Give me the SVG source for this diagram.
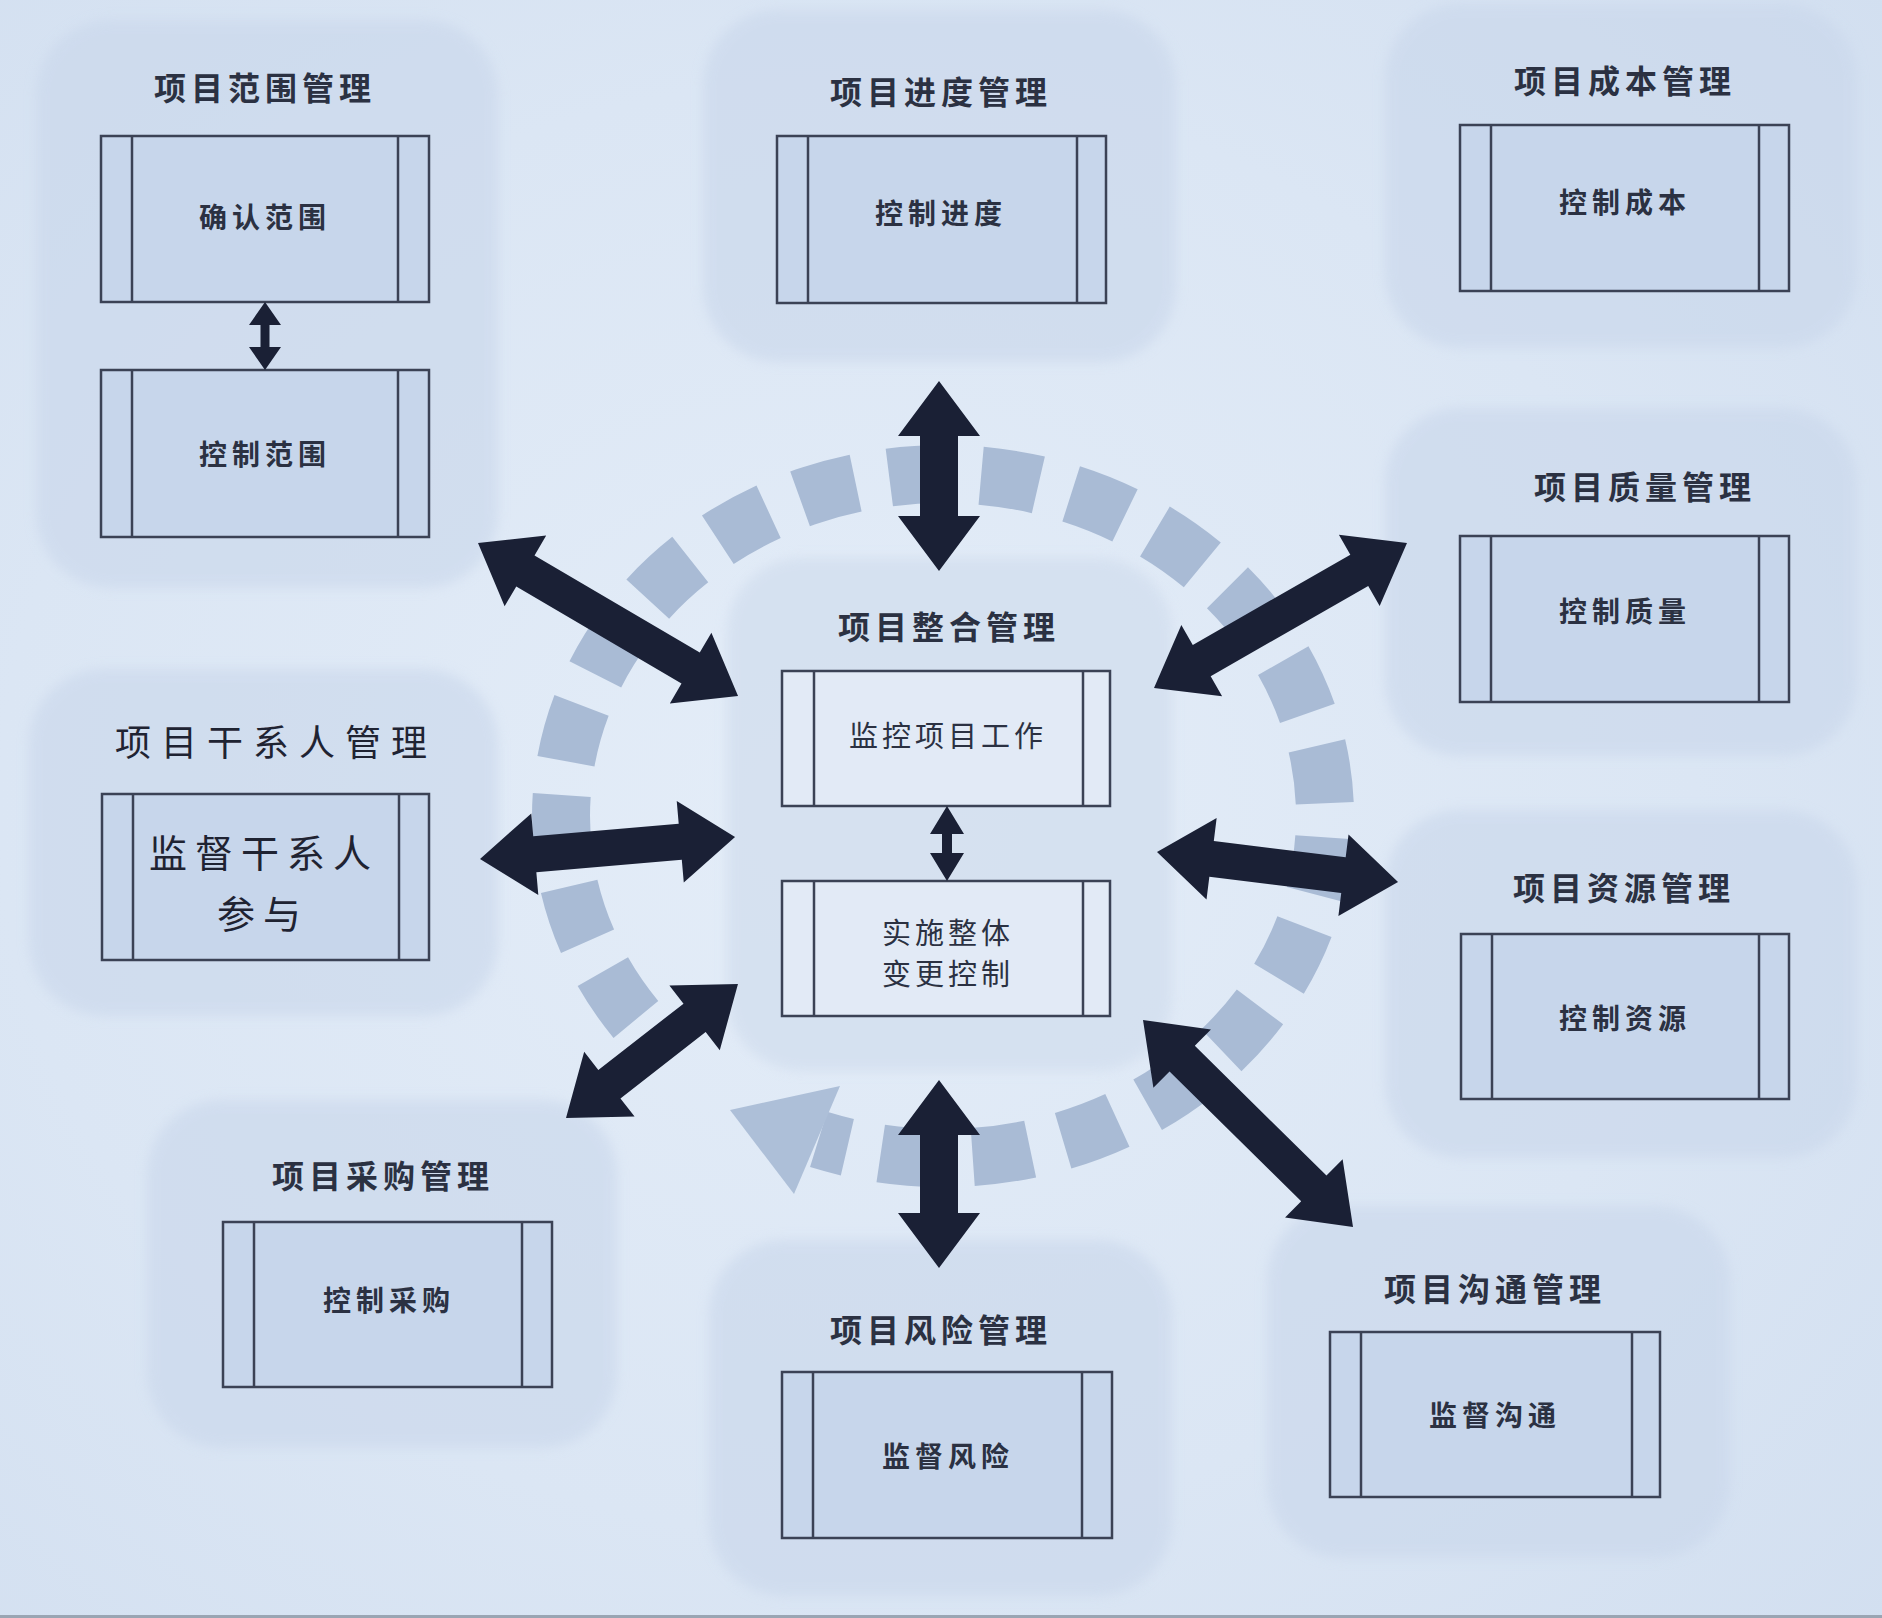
<svg xmlns="http://www.w3.org/2000/svg" width="1882" height="1618" viewBox="0 0 1882 1618">
<defs>
<radialGradient id="bg" cx="0.45" cy="0.5" r="0.75">
<stop offset="0" stop-color="#e4edf8"/>
<stop offset="0.6" stop-color="#dbe6f4"/>
<stop offset="1" stop-color="#d2dff0"/>
</radialGradient>
<filter id="soft" x="-10%" y="-10%" width="120%" height="120%">
<feGaussianBlur stdDeviation="6"/>
</filter>
<style>
.panel{fill:#c9d7eb;opacity:0.6;filter:url(#soft)}
.cpanel{fill:#d3dfef;opacity:0.8;filter:url(#soft)}
.box{fill:#c7d6eb;stroke:#3b4255;stroke-width:2.5}
.cbox{fill:#e2eaf6;stroke:#3b4255;stroke-width:2.5}
.side{stroke:#3b4255;stroke-width:2.5}
.title{font-family:"Noto Sans CJK SC","Noto Sans",sans-serif;font-size:32px;font-weight:bold;fill:#2b3142;letter-spacing:5px;text-anchor:middle;dominant-baseline:central}
.lbl{font-family:"Noto Sans CJK SC","Noto Sans",sans-serif;font-size:28px;font-weight:bold;fill:#2b3142;letter-spacing:5px;text-anchor:middle;dominant-baseline:central}
.clbl{font-family:"Noto Sans CJK SC","Noto Sans",sans-serif;font-size:29px;font-weight:normal;fill:#2b3142;letter-spacing:4px;text-anchor:middle;dominant-baseline:central}
.big{font-family:"Noto Sans CJK SC","Noto Sans",sans-serif;font-size:36px;font-weight:normal;fill:#1f2332;letter-spacing:10px;text-anchor:middle;dominant-baseline:central}
.bigl{font-family:"Noto Sans CJK SC","Noto Sans",sans-serif;font-size:38px;font-weight:normal;fill:#1f2332;letter-spacing:8px;text-anchor:middle;dominant-baseline:central}
.arr{fill:#1a2035}
.ring{fill:none;stroke:#a9bbd5;stroke-width:58;stroke-dasharray:58 34;stroke-dashoffset:28}
.ringhead{fill:#adbfd8}
</style>
</defs>
<rect x="0" y="0" width="1882" height="1618" fill="url(#bg)"/>
<rect x="0" y="1615" width="1882" height="3" fill="#9aa5b3"/>

<g id="ring">
<path class="ring" d="M818.6,1139.4 A382,342 0 1 0 650.4,1035.9"/>
<polygon class="ringhead" points="730,1110 840,1086 794,1194"/>
</g>

<g id="scope">
<rect class="panel" x="36" y="20" width="462" height="568" rx="75"/>
<text class="title" x="265" y="86">项目范围管理</text>
<g id="scope-verify">
<rect class="box" x="101" y="136" width="328" height="166"/>
<line class="side" x1="132" y1="136" x2="132" y2="302"/><line class="side" x1="398" y1="136" x2="398" y2="302"/>
<text class="lbl" x="265" y="216">确认范围</text>
</g>
<g id="scope-control">
<rect class="box" x="101" y="370" width="328" height="167"/>
<line class="side" x1="132" y1="370" x2="132" y2="537"/><line class="side" x1="398" y1="370" x2="398" y2="537"/>
<text class="lbl" x="265" y="453">控制范围</text>
</g>
</g>

<g id="schedule">
<rect class="panel" x="703" y="10" width="473" height="352" rx="75"/>
<text class="title" x="941" y="90">项目进度管理</text>
<rect class="box" x="777" y="136" width="329" height="167"/>
<line class="side" x1="808" y1="136" x2="808" y2="303"/><line class="side" x1="1077" y1="136" x2="1077" y2="303"/>
<text class="lbl" x="941" y="212">控制进度</text>
</g>

<g id="cost">
<rect class="panel" x="1385" y="4" width="472" height="344" rx="75"/>
<text class="title" x="1625" y="79">项目成本管理</text>
<rect class="box" x="1460" y="125" width="329" height="166"/>
<line class="side" x1="1491" y1="125" x2="1491" y2="291"/><line class="side" x1="1759" y1="125" x2="1759" y2="291"/>
<text class="lbl" x="1625" y="201">控制成本</text>
</g>

<g id="quality">
<rect class="panel" x="1385" y="408" width="472" height="348" rx="75"/>
<text class="title" x="1645" y="485">项目质量管理</text>
<rect class="box" x="1460" y="536" width="329" height="166"/>
<line class="side" x1="1491" y1="536" x2="1491" y2="702"/><line class="side" x1="1759" y1="536" x2="1759" y2="702"/>
<text class="lbl" x="1625" y="610">控制质量</text>
</g>

<g id="resource">
<rect class="panel" x="1385" y="810" width="472" height="348" rx="75"/>
<text class="title" x="1624" y="886">项目资源管理</text>
<rect class="box" x="1461" y="934" width="328" height="165"/>
<line class="side" x1="1492" y1="934" x2="1492" y2="1099"/><line class="side" x1="1759" y1="934" x2="1759" y2="1099"/>
<text class="lbl" x="1625" y="1017">控制资源</text>
</g>

<g id="communication">
<rect class="panel" x="1267" y="1206" width="463" height="352" rx="75"/>
<text class="title" x="1495" y="1287">项目沟通管理</text>
<rect class="box" x="1330" y="1332" width="330" height="165"/>
<line class="side" x1="1361" y1="1332" x2="1361" y2="1497"/><line class="side" x1="1632" y1="1332" x2="1632" y2="1497"/>
<text class="lbl" x="1495" y="1414">监督沟通</text>
</g>

<g id="risk">
<rect class="panel" x="709" y="1240" width="463" height="356" rx="75"/>
<text class="title" x="941" y="1328">项目风险管理</text>
<rect class="box" x="782" y="1372" width="330" height="166"/>
<line class="side" x1="813" y1="1372" x2="813" y2="1538"/><line class="side" x1="1082" y1="1372" x2="1082" y2="1538"/>
<text class="lbl" x="948" y="1455">监督风险</text>
</g>

<g id="procurement">
<rect class="panel" x="147" y="1100" width="470" height="348" rx="75"/>
<text class="title" x="383" y="1174">项目采购管理</text>
<rect class="box" x="223" y="1222" width="329" height="165"/>
<line class="side" x1="254" y1="1222" x2="254" y2="1387"/><line class="side" x1="522" y1="1222" x2="522" y2="1387"/>
<text class="lbl" x="389" y="1299">控制采购</text>
</g>

<g id="stakeholder">
<rect class="panel" x="29" y="669" width="469" height="347" rx="75"/>
<text class="big" x="276" y="740">项目干系人管理</text>
<rect class="box" x="102" y="794" width="327" height="166"/>
<line class="side" x1="133" y1="794" x2="133" y2="960"/><line class="side" x1="399" y1="794" x2="399" y2="960"/>
<text class="bigl" x="264" y="850">监督干系人</text>
<text class="bigl" x="263" y="911">参与</text>
</g>

<g id="integration">
<rect class="cpanel" x="727" y="558" width="445" height="513" rx="75"/>
<text class="title" x="949" y="625">项目整合管理</text>
<g id="integration-monitor">
<rect class="cbox" x="782" y="671" width="328" height="135"/>
<line class="side" x1="814" y1="671" x2="814" y2="806"/><line class="side" x1="1083" y1="671" x2="1083" y2="806"/>
<text class="clbl" x="948" y="734">监控项目工作</text>
</g>
<g id="integration-change">
<rect class="cbox" x="782" y="881" width="328" height="135"/>
<line class="side" x1="814" y1="881" x2="814" y2="1016"/><line class="side" x1="1083" y1="881" x2="1083" y2="1016"/>
<text class="clbl" x="948" y="931">实施整体</text>
<text class="clbl" x="948" y="972">变更控制</text>
</g>
</g>

<g id="connectors">
<path class="arr" d="M265,302 L281,325 L269.5,325 L269.5,347 L281,347 L265,370 L249,347 L260.5,347 L260.5,325 L249,325 Z"/>
<path class="arr" d="M947,806 L964,834 L952,834 L952,853 L964,853 L947,881 L930,853 L942,853 L942,834 L930,834 Z"/>
<path class="arr" transform="translate(939,381) rotate(90)" d="M0,0 L55,-41 L55,-19 L135,-19 L135,-41 L190,0 L135,41 L135,19 L55,19 L55,41 Z"/>
<path class="arr" transform="translate(939,1080) rotate(90)" d="M0,0 L55,-41 L55,-19 L133,-19 L133,-41 L188,0 L133,41 L133,19 L55,19 L55,41 Z"/>
<path class="arr" transform="translate(478,543) rotate(30.47)" d="M0,0 L55,-41 L55,-18 L246.7,-18 L246.7,-41 L301.7,0 L246.7,41 L246.7,18 L55,18 L55,41 Z"/>
<path class="arr" transform="translate(480,859) rotate(-4.93)" d="M0,0 L55,-41 L55,-18 L201,-18 L201,-41 L256,0 L201,41 L201,18 L55,18 L55,41 Z"/>
<path class="arr" transform="translate(566,1118) rotate(-37.92)" d="M0,0 L55,-41 L55,-18 L163,-18 L163,-41 L218,0 L163,41 L163,18 L55,18 L55,41 Z"/>
<path class="arr" transform="translate(1154,688) rotate(-29.82)" d="M0,0 L55,-41 L55,-18 L236.6,-18 L236.6,-41 L291.6,0 L236.6,41 L236.6,18 L55,18 L55,41 Z"/>
<path class="arr" transform="translate(1157,852) rotate(7.10)" d="M0,0 L55,-41 L55,-18 L187.9,-18 L187.9,-41 L242.9,0 L187.9,41 L187.9,18 L55,18 L55,41 Z"/>
<path class="arr" transform="translate(1143,1020) rotate(44.59)" d="M0,0 L55,-41 L55,-18 L239.9,-18 L239.9,-41 L294.9,0 L239.9,41 L239.9,18 L55,18 L55,41 Z"/>
</g>
</svg>
